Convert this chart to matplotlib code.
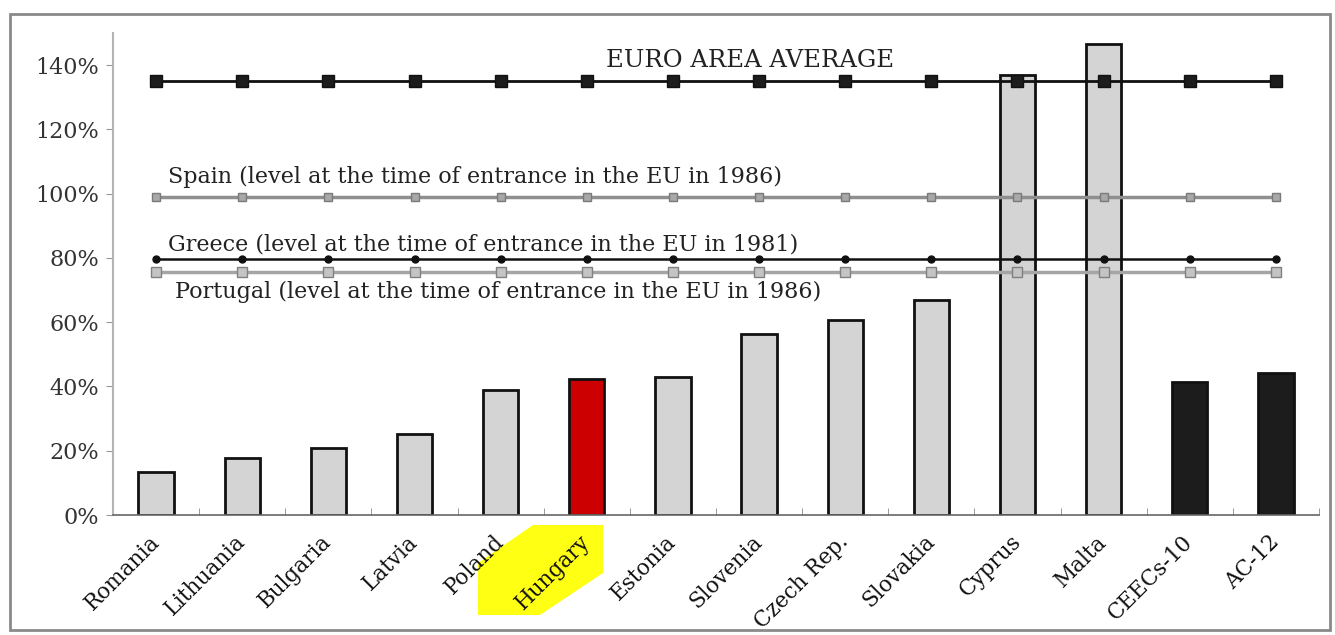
import numpy as np
import matplotlib.pyplot as plt
from matplotlib.patches import Rectangle, Polygon

countries = ["Romania", "Lithuania", "Bulgaria", "Latvia", "Poland", "Hungary",
             "Estonia", "Slovenia", "Czech Rep.", "Slovakia", "Cyprus", "Malta",
             "CEECs-10", "AC-12"]
values = [13.4, 17.7, 20.8, 25.2, 38.9, 42.3, 42.9, 56.3, 60.7, 66.9, 136.9, 146.5, 41.4, 44.2]
bar_colors = ["#d4d4d4"] * 5 + ["#cc0000"] + ["#d4d4d4"] * 6 + ["#1c1c1c"] * 2

euro_avg = 135.0
spain_1986 = 98.9
greece_1981 = 79.6
portugal_1986 = 75.6

plt.rcParams['font.family'] = ['DejaVu Serif']
fig = plt.figure(figsize=(13.35, 6.35), dpi=100)
W, H = 1335, 635
ax = fig.add_axes([113 / W, 1 - 515 / H, (1319 - 113) / W, (515 - 33) / H])

x = np.arange(len(countries))
ax.bar(x, values, width=0.41, color=bar_colors, edgecolor="#111111", linewidth=2, zorder=2)

n = len(countries)
ax.plot(x, [spain_1986] * n, color="#8f8f8f", lw=2.5, marker="s", ms=6,
        mfc="#a8a8a8", mec="#7a7a7a", zorder=3)
ax.plot(x, [portugal_1986] * n, color="#a5a5a5", lw=2.5, marker="s", ms=7,
        mfc="#c4c4c4", mec="#808080", zorder=3)
ax.plot(x, [greece_1981] * n, color="#111111", lw=1.8, marker="o", ms=5,
        mfc="#111111", mec="#111111", zorder=4)
ax.plot(x, [euro_avg] * n, color="#111111", lw=2, marker="s", ms=8,
        mfc="#1c1c1c", mec="#111111", zorder=4)

tc = "#222222"
ax.text(6.89, 139.3, "EURO AREA AVERAGE", ha="center", va="baseline", fontsize=17.5, color=tc)
ax.text(0.14, 103.3, "Spain (level at the time of entrance in the EU in 1986)",
        ha="left", va="baseline", fontsize=16, color=tc)
ax.text(0.14, 82.4, "Greece (level at the time of entrance in the EU in 1981)",
        ha="left", va="baseline", fontsize=16, color=tc)
ax.text(0.22, 67.4, "Portugal (level at the time of entrance in the EU in 1986)",
        ha="left", va="baseline", fontsize=16, color=tc)

ax.set_xlim(-0.5, n - 0.5)
ax.set_ylim(0, 150)
ax.set_yticks(np.arange(0, 141, 20))
ax.set_yticklabels([f"{v}%" for v in range(0, 141, 20)], fontsize=16, color="#333333")
ax.tick_params(axis="y", direction="out", length=5, color="#999999", pad=5)

ax.set_xticks(x)
ax.set_xticklabels(countries, rotation=45, ha="right", va="center",
                   rotation_mode="anchor", fontsize=15.5, color="#111111")
ax.tick_params(axis="x", which="major", length=0, pad=17)
ax.set_xticks(np.arange(-0.5, n, 1.0)[1:], minor=True)
ax.tick_params(axis="x", which="minor", direction="in", length=5, color="#888888")

for s in ["top", "right"]:
    ax.spines[s].set_visible(False)
ax.spines["left"].set_color("#b5b5b5")
ax.spines["left"].set_linewidth(1.5)
ax.spines["bottom"].set_color("#666666")
ax.spines["bottom"].set_linewidth(1.2)

# yellow highlight behind the Hungary label
hl = [(533, 525), (603, 525), (603, 573), (540, 615), (478, 615), (478, 563)]
fig.patches.append(Polygon([(px / W, 1 - py / H) for px, py in hl], closed=True,
                           transform=fig.transFigure, facecolor="#ffff14",
                           edgecolor="none", zorder=-1))

# outer frame
fig.patches.append(Rectangle((10 / W, 1 - 630 / H), 1320 / W, 616 / H,
                             transform=fig.transFigure, fill=False,
                             edgecolor="#8a8a8a", lw=2))

fig.savefig("out.png", dpi=100)
